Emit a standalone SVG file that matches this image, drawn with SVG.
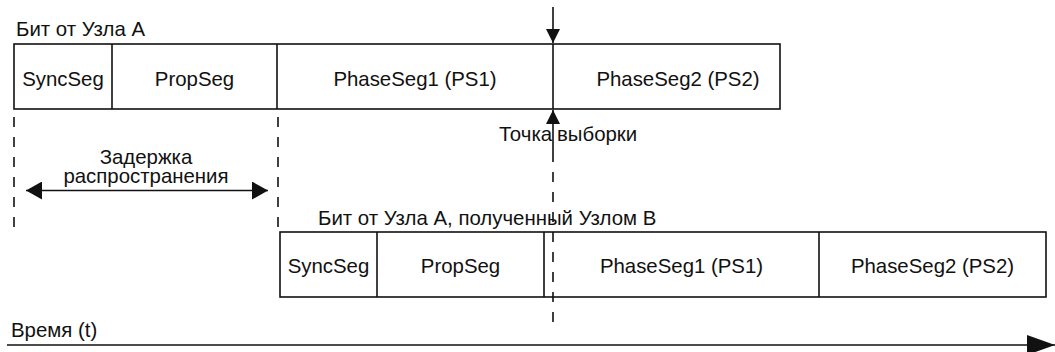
<svg xmlns="http://www.w3.org/2000/svg" width="1055" height="352" viewBox="0 0 1055 352">
  <style>
    text { font-family: "Liberation Sans", Arial, sans-serif; font-size: 20.4px; fill: #111; }
    .mid { text-anchor: middle; }
    .box { fill: #fff; stroke: #111; stroke-width: 1.6; }
    .div { stroke: #111; stroke-width: 1.6; }
    .dash { stroke: #111; stroke-width: 1.6; stroke-dasharray: 10 10; fill: none; }
    .line { stroke: #111; stroke-width: 1.6; fill: none; }
  </style>
  <defs>
    <marker id="head" viewBox="0 0 16 18" refX="16" refY="9" markerWidth="16" markerHeight="18" markerUnits="userSpaceOnUse" orient="auto-start-reverse">
      <path d="M0,0 L16,9 L0,18 Z" fill="#111"/>
    </marker>
    <marker id="headSmall" viewBox="0 0 14 14" refX="14" refY="7" markerWidth="14" markerHeight="14" markerUnits="userSpaceOnUse" orient="auto">
      <path d="M0,0 L14,7 L0,14 Z" fill="#111"/>
    </marker>
    <marker id="headBig" viewBox="0 0 28 20" refX="28" refY="10" markerWidth="28" markerHeight="20" markerUnits="userSpaceOnUse" orient="auto">
      <path d="M0,0 L28,10 L0,20 Z" fill="#111"/>
    </marker>
  </defs>

  <!-- bit as transmitted by node A -->
  <g id="bit-a">
    <text x="16" y="36">Бит от Узла А</text>
    <rect class="box" x="14" y="44" width="766" height="65"/>
    <line class="div" x1="112" y1="44" x2="112" y2="109"/>
    <line class="div" x1="277" y1="44" x2="277" y2="109"/>
    <line class="div" x1="553" y1="44" x2="553" y2="109"/>
    <text class="mid" x="63" y="86">SyncSeg</text>
    <text class="mid" x="194.5" y="86">PropSeg</text>
    <text class="mid" x="415" y="86">PhaseSeg1 (PS1)</text>
    <text class="mid" x="678" y="86">PhaseSeg2 (PS2)</text>
  </g>

  <!-- bit as received by node B -->
  <g id="bit-b">
    <text x="318" y="225">Бит от Узла А, полученный Узлом В</text>
    <rect class="box" x="280" y="232" width="766" height="65"/>
    <line class="div" x1="377" y1="232" x2="377" y2="297"/>
    <line class="div" x1="544" y1="232" x2="544" y2="297"/>
    <line class="div" x1="819" y1="232" x2="819" y2="297"/>
    <text class="mid" x="328.5" y="273">SyncSeg</text>
    <text class="mid" x="460.5" y="273">PropSeg</text>
    <text class="mid" x="681.5" y="273">PhaseSeg1 (PS1)</text>
    <text class="mid" x="932.5" y="273">PhaseSeg2 (PS2)</text>
  </g>

  <!-- sample point -->
  <g id="sample-point">
    <text x="499" y="141">Точка</text>
    <text x="557" y="141">выборки</text>
  </g>

  <!-- propagation delay -->
  <g id="delay">
    <text class="mid" x="146" y="164">Задержка</text>
    <text class="mid" x="146" y="183">распространения</text>
  </g>

  <!-- time axis label -->
  <g id="time">
    <text x="11" y="337">Время (t)</text>
  </g>

  <g id="connectors">
    <!-- sample point arrows -->
    <line class="line" x1="553" y1="7" x2="553" y2="43" marker-end="url(#headSmall)"/>
    <line class="line" x1="553" y1="152" x2="553" y2="110" marker-end="url(#headSmall)"/>
    <line class="dash" x1="553" y1="152" x2="553" y2="330"/>
    <!-- propagation delay guides -->
    <line class="dash" x1="14" y1="117" x2="14" y2="230"/>
    <line class="dash" x1="278" y1="117" x2="278" y2="228"/>
    <line class="line" x1="26" y1="190.5" x2="268" y2="190.5" marker-start="url(#head)" marker-end="url(#head)"/>
    <!-- time axis -->
    <line class="line" x1="7" y1="345" x2="1055" y2="345" stroke-width="2.4" marker-end="url(#headBig)"/>
  </g>
</svg>
